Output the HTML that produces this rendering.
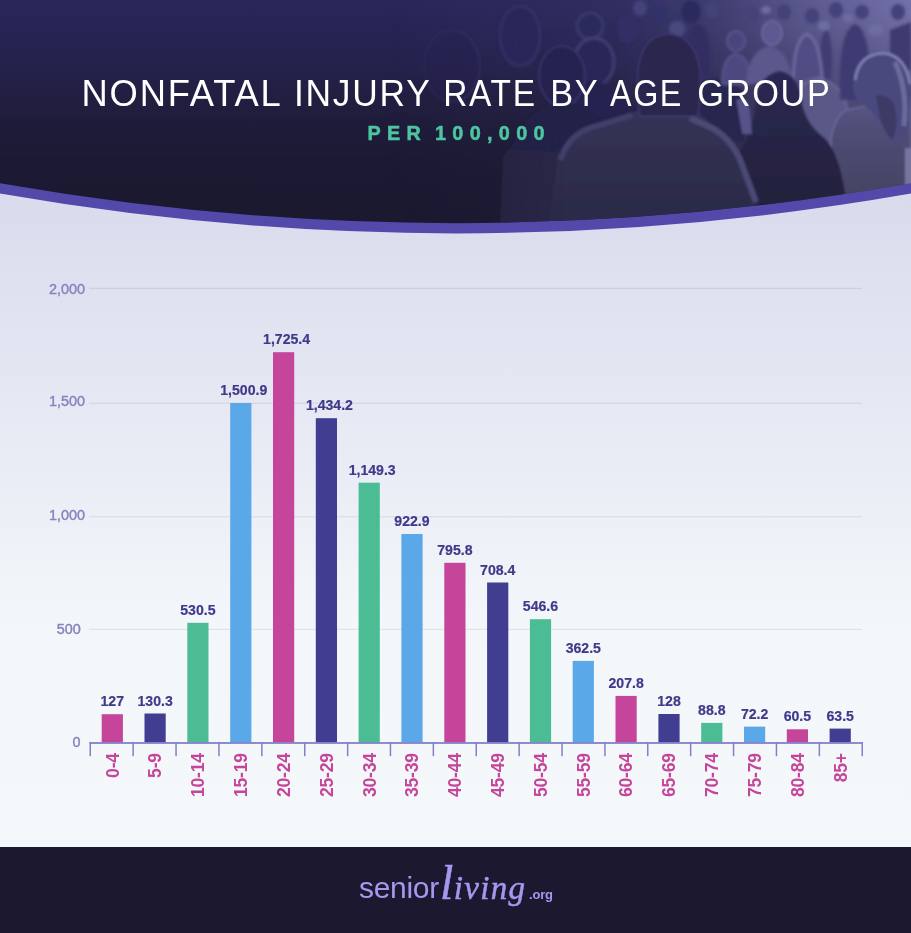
<!DOCTYPE html>
<html lang="en">
<head>
<meta charset="utf-8">
<title>Nonfatal Injury Rate by Age Group</title>
<style>
html,body{margin:0;padding:0;background:#f5f8fa;}
body{width:911px;height:933px;overflow:hidden;position:relative;font-family:"Liberation Sans",sans-serif;}
svg{position:absolute;left:0;top:0;display:block;}
text{font-family:"Liberation Sans",sans-serif;}
.ttl{font-size:36.3px;fill:#fff;letter-spacing:1.8px;}
.sub{font-size:19.8px;font-weight:bold;fill:#4dc5a0;stroke:#4dc5a0;stroke-width:0.5px;letter-spacing:6.35px;word-spacing:-4px;}
.yl{font-size:14.4px;fill:#8684be;stroke:#8684be;stroke-width:0.4px;}
.vl{font-size:14.1px;font-weight:bold;fill:#3e3a8a;stroke:#3e3a8a;stroke-width:0.2px;}
.xl{font-size:17.6px;font-weight:bold;fill:#c4459a;letter-spacing:-0.25px;}
.lg{fill:#a697ef;}
.lg1{font-size:30px;letter-spacing:-0.3px;}
.lg2{font-family:"Liberation Serif",serif;font-style:italic;font-size:38px;stroke:#a697ef;stroke-width:0.5px;}
.lg3{font-size:13px;font-weight:bold;letter-spacing:-0.2px;}
</style>
</head>
<body>
<svg width="911" height="933" viewBox="0 0 911 933">
<defs>
<linearGradient id="bg" x1="0" y1="190" x2="0" y2="848" gradientUnits="userSpaceOnUse"><stop offset="0" stop-color="#d9dbed"/><stop offset="0.68" stop-color="#f4f7fa"/><stop offset="1" stop-color="#f5f8fa"/></linearGradient>
<linearGradient id="hd" x1="0" y1="0" x2="0" y2="200" gradientUnits="userSpaceOnUse"><stop offset="0" stop-color="#29265a"/><stop offset="0.3" stop-color="#25224e"/><stop offset="0.45" stop-color="#221f43"/><stop offset="0.6" stop-color="#1f1c3b"/><stop offset="0.8" stop-color="#1c1a33"/><stop offset="1" stop-color="#1b1930"/></linearGradient>
<clipPath id="hc"><path d="M0 0H911V183.3Q455.5 263 0 183.3Z"/></clipPath>

<linearGradient id="pbg" x1="380" y1="0" x2="911" y2="0" gradientUnits="userSpaceOnUse"><stop offset="0" stop-color="#9a98d0" stop-opacity="0"/><stop offset="0.25" stop-color="#9a98d0" stop-opacity="0.03"/><stop offset="0.45" stop-color="#9a98d0" stop-opacity="0.07"/><stop offset="0.66" stop-color="#9a98d0" stop-opacity="0.24"/><stop offset="0.8" stop-color="#9a98d0" stop-opacity="0.45"/><stop offset="1" stop-color="#9a98d0" stop-opacity="0.66"/></linearGradient>
<linearGradient id="pv" x1="0" y1="0" x2="0" y2="230" gradientUnits="userSpaceOnUse"><stop offset="0" stop-color="#fff"/><stop offset="0.1" stop-color="#f4f4f4"/><stop offset="0.25" stop-color="#ccc"/><stop offset="0.45" stop-color="#aaa"/><stop offset="1" stop-color="#777"/></linearGradient><mask id="pvm" maskUnits="userSpaceOnUse" x="0" y="0" width="911" height="240"><rect x="380" y="0" width="531" height="240" fill="url(#pv)"/></mask>
<linearGradient id="shirt" x1="0" y1="110" x2="0" y2="225" gradientUnits="userSpaceOnUse"><stop offset="0" stop-color="#353459"/><stop offset="0.35" stop-color="#302f51"/><stop offset="1" stop-color="#2b2a47"/></linearGradient>
<linearGradient id="swt" x1="0" y1="100" x2="0" y2="200" gradientUnits="userSpaceOnUse"><stop offset="0" stop-color="#575584"/><stop offset="0.5" stop-color="#4c4a70"/><stop offset="1" stop-color="#444262"/></linearGradient>
<linearGradient id="jack" x1="0" y1="70" x2="0" y2="225" gradientUnits="userSpaceOnUse"><stop offset="0" stop-color="#2c2954"/><stop offset="0.5" stop-color="#272444"/><stop offset="1" stop-color="#211e3a"/></linearGradient>
<linearGradient id="fg" x1="380" y1="0" x2="911" y2="0" gradientUnits="userSpaceOnUse"><stop offset="0" stop-color="#000"/><stop offset="0.1" stop-color="#555"/><stop offset="0.25" stop-color="#ccc"/><stop offset="0.35" stop-color="#fff"/><stop offset="1" stop-color="#fff"/></linearGradient>
<mask id="fade" maskUnits="userSpaceOnUse" x="0" y="0" width="911" height="240"><rect x="380" y="0" width="531" height="240" fill="url(#fg)"/></mask>
<filter id="bl1" filterUnits="userSpaceOnUse" x="350" y="-20" width="600" height="280"><feGaussianBlur stdDeviation="1.2"/></filter>
<filter id="bl2" filterUnits="userSpaceOnUse" x="350" y="-20" width="600" height="280"><feGaussianBlur stdDeviation="1.8"/></filter>
</defs>
<rect x="0" y="0" width="911" height="848" fill="url(#bg)"/>
<path d="M0 0H911V193.6Q455.5 273.2 0 193.6Z" fill="#5249ab"/>
<g clip-path="url(#hc)">
<rect x="0" y="0" width="911" height="225" fill="url(#hd)"/>

<rect x="380" y="0" width="531" height="230" fill="url(#pbg)" mask="url(#pvm)"/>
<g mask="url(#fade)">
<g filter="url(#bl2)">
<!-- far background heads (top strip) -->
<g fill="#44427a">
<ellipse cx="640" cy="8" rx="7" ry="8"/><ellipse cx="712" cy="10" rx="7" ry="8"/><ellipse cx="752" cy="14" rx="7" ry="8"/>
<ellipse cx="784" cy="12" rx="7" ry="8"/><ellipse cx="812" cy="16" rx="7" ry="8"/><ellipse cx="836" cy="10" rx="7" ry="8"/>
<ellipse cx="862" cy="12" rx="7" ry="7"/><ellipse cx="898" cy="12" rx="7" ry="8"/>
</g>
<g fill="#6e6ca4">
<ellipse cx="766" cy="10" rx="5" ry="4"/><ellipse cx="824" cy="26" rx="6" ry="5"/><ellipse cx="876" cy="30" rx="8" ry="6"/><ellipse cx="848" cy="18" rx="5" ry="4"/>
</g>
<!-- background crowd -->
<ellipse cx="826" cy="60" rx="6" ry="30" fill="#3f3d74"/>
<ellipse cx="520" cy="36" rx="20" ry="30" fill="#2b285a" stroke="#3a3770" stroke-width="2"/>
<ellipse cx="590" cy="26" rx="13" ry="13" fill="#2b295b" stroke="#413f76" stroke-width="2"/>
<ellipse cx="594" cy="62" rx="20" ry="24" fill="#2a2858" stroke="#444278" stroke-width="2.5"/>
<path d="M558 120 Q566 84 592 80 Q622 84 638 120Z" fill="#272450"/>
<ellipse cx="628" cy="28" rx="11" ry="15" fill="#322f66"/>
<ellipse cx="660" cy="14" rx="8" ry="9" fill="#33316a"/>
<ellipse cx="677" cy="29" rx="8" ry="8" fill="#4a4880"/>
<ellipse cx="691" cy="12" rx="10" ry="12" fill="#2c2a5e"/>
<path d="M684 60 Q686 22 700 24 Q712 30 710 80 L700 80Z" fill="#302e62"/>
<path d="M699 142 L699 84 Q720 70 744 92 L744 142Z" fill="#282550"/>
<path d="M722 84 Q722 56 736 54 Q750 56 750 84Z" fill="#4b4980" stroke="#5f5d94" stroke-width="1.5"/>
<ellipse cx="736" cy="41" rx="9" ry="10" fill="#46447c" stroke="#615f96" stroke-width="1.5"/>
<path d="M746 84 Q748 50 770 46 Q790 50 792 84Z" fill="#5b598e"/>
<ellipse cx="772" cy="33" rx="10" ry="12" fill="#5b5991" stroke="#7270a6" stroke-width="1.5"/>
<path d="M793 112 Q790 40 807 34 Q824 40 823 112Z" fill="#504e83" stroke="#7270a4" stroke-width="2.5"/>
<path d="M788 112 Q790 84 818 78 Q844 84 848 112 L850 146 L795 146Z" fill="#5a5887" stroke="#7472a2" stroke-width="1.5"/>
<path d="M840 100 Q838 30 855 24 Q872 30 870 100Z" fill="#3d3b72"/>
<path d="M890 30 L911 22 L911 70 L890 70Z" fill="#3d3b70"/>
</g>
<g filter="url(#bl1)">
<!-- person C: sweater + curly hair -->
<path d="M832 205 L831 140 Q834 118 846 110 L911 98 L911 205Z" fill="url(#swt)" stroke="#6c6a98" stroke-width="1.5"/>
<path d="M853 84 Q856 52 884 51 Q911 56 911 96 L909 126 Q902 146 890 140 Q880 118 868 108 Q853 102 853 84Z" fill="#4a487e"/>
<path d="M855 80 Q858 54 884 53 Q906 56 910 84" fill="none" stroke="#7f7db0" stroke-width="3"/>
<path d="M895 62 Q908 90 904 126" fill="none" stroke="#7a78aa" stroke-width="5" opacity="0.75"/>
<path d="M876 96 Q884 92 894 104 Q900 126 892 140 Q884 132 880 118Z" fill="#3c3a66"/>
<rect x="905" y="148" width="8" height="40" fill="#7674a0"/>
<!-- person B: dark jacket + hair -->
<path d="M779 71 Q800 74 802 104 Q806 124 824 138 Q840 152 846 200 L846 230 L738 230 L740 150 Q752 134 756 104 Q758 76 779 71Z" fill="url(#jack)"/>
<!-- left lighter jacket -->
<path d="M500 230 L503 156 Q515 140 545 134 L560 150 L552 230Z" fill="#2b2847"/>
<!-- left heads -->
<ellipse cx="562" cy="76" rx="23" ry="30" fill="#27244f" stroke="#37346a" stroke-width="2"/>
<path d="M510 150 Q530 104 562 102 Q590 104 604 128 L560 152Z" fill="#242148"/>
<ellipse cx="452" cy="66" rx="28" ry="36" fill="#27244f" stroke="#343168" stroke-width="2"/>
<path d="M736 100 Q746 96 750 110 L752 134 L742 134Z" fill="#55538a"/>
<!-- person A: grey t-shirt + dark head -->
<path d="M548 230 L557 164 Q566 134 590 126 L628 114 L640 110 L698 112 L712 124 Q734 136 743 160 L758 204 L758 230Z" fill="url(#shirt)"/>
<path d="M560 160 Q568 136 590 128 L632 115" fill="none" stroke="#454370" stroke-width="6" opacity="0.8"/>
<path d="M690 118 L712 128 Q732 139 741 162 L756 202" fill="none" stroke="#535180" stroke-width="6" opacity="0.8"/>
<path d="M640 116 Q636 90 638 70 Q642 36 668 34 Q696 36 700 72 Q701 92 698 116Z" fill="#2a264e" stroke="#3c3a70" stroke-width="1.5"/>
</g>
</g>

</g>
<text class="ttl" y="106"><tspan x="81.50" textLength="199.73" lengthAdjust="spacingAndGlyphs">NONFATAL</tspan> <tspan x="294.00" textLength="136.96" lengthAdjust="spacingAndGlyphs">INJURY</tspan> <tspan x="443.23" textLength="93.40" lengthAdjust="spacingAndGlyphs">RATE</tspan> <tspan x="550.21" textLength="48.66" lengthAdjust="spacingAndGlyphs">BY</tspan> <tspan x="610.00" textLength="72.98" lengthAdjust="spacingAndGlyphs">AGE</tspan> <tspan x="697.24" textLength="134.48" lengthAdjust="spacingAndGlyphs">GROUP</tspan></text>
<text class="sub" x="367.4" y="140.2">PER 100,000</text>

<rect x="89" y="287.85" width="773" height="1.2" fill="#5a5a82" fill-opacity="0.13"/>
<rect x="89" y="402.60" width="773" height="1.2" fill="#5a5a82" fill-opacity="0.13"/>
<rect x="89" y="516.16" width="773" height="1.2" fill="#5a5a82" fill-opacity="0.13"/>
<rect x="89" y="628.80" width="773" height="1.2" fill="#5a5a82" fill-opacity="0.13"/>
<text class="yl" x="84.9" y="294.0" text-anchor="end">2,000</text>
<text class="yl" x="84.9" y="405.8" text-anchor="end">1,500</text>
<text class="yl" x="84.9" y="519.8" text-anchor="end">1,000</text>
<text class="yl" x="80.8" y="634.1" text-anchor="end">500</text>
<text class="yl" x="80.5" y="747.4" text-anchor="end">0</text>
<rect x="101.7" y="714.2" width="21.2" height="28.4" fill="#c4459a"/>
<text class="vl" x="112.3" y="706.2" text-anchor="middle">127</text>
<text class="xl" transform="translate(118.6 753.2) rotate(-90)" text-anchor="end">0-4</text>
<rect x="144.5" y="713.5" width="21.2" height="29.1" fill="#413d90"/>
<text class="vl" x="155.1" y="705.5" text-anchor="middle">130.3</text>
<text class="xl" transform="translate(161.4 753.2) rotate(-90)" text-anchor="end">5-9</text>
<rect x="187.3" y="622.8" width="21.2" height="119.8" fill="#4bbc94"/>
<text class="vl" x="197.9" y="614.8" text-anchor="middle">530.5</text>
<text class="xl" transform="translate(204.2 753.2) rotate(-90)" text-anchor="end">10-14</text>
<rect x="230.2" y="403.0" width="21.2" height="339.6" fill="#5ba8e8"/>
<text class="vl" x="243.8" y="395.0" text-anchor="middle">1,500.9</text>
<text class="xl" transform="translate(247.1 753.2) rotate(-90)" text-anchor="end">15-19</text>
<rect x="273.0" y="352.2" width="21.2" height="390.4" fill="#c4459a"/>
<text class="vl" x="286.6" y="344.2" text-anchor="middle">1,725.4</text>
<text class="xl" transform="translate(289.9 753.2) rotate(-90)" text-anchor="end">20-24</text>
<rect x="315.8" y="418.2" width="21.2" height="324.4" fill="#413d90"/>
<text class="vl" x="329.4" y="410.2" text-anchor="middle">1,434.2</text>
<text class="xl" transform="translate(332.7 753.2) rotate(-90)" text-anchor="end">25-29</text>
<rect x="358.6" y="482.7" width="21.2" height="259.9" fill="#4bbc94"/>
<text class="vl" x="372.2" y="474.7" text-anchor="middle">1,149.3</text>
<text class="xl" transform="translate(375.5 753.2) rotate(-90)" text-anchor="end">30-34</text>
<rect x="401.4" y="534.0" width="21.2" height="208.6" fill="#5ba8e8"/>
<text class="vl" x="412.0" y="526.0" text-anchor="middle">922.9</text>
<text class="xl" transform="translate(418.3 753.2) rotate(-90)" text-anchor="end">35-39</text>
<rect x="444.3" y="562.8" width="21.2" height="179.8" fill="#c4459a"/>
<text class="vl" x="454.9" y="554.8" text-anchor="middle">795.8</text>
<text class="xl" transform="translate(461.2 753.2) rotate(-90)" text-anchor="end">40-44</text>
<rect x="487.1" y="582.5" width="21.2" height="160.1" fill="#413d90"/>
<text class="vl" x="497.7" y="574.5" text-anchor="middle">708.4</text>
<text class="xl" transform="translate(504.0 753.2) rotate(-90)" text-anchor="end">45-49</text>
<rect x="529.9" y="619.2" width="21.2" height="123.4" fill="#4bbc94"/>
<text class="vl" x="540.5" y="611.2" text-anchor="middle">546.6</text>
<text class="xl" transform="translate(546.8 753.2) rotate(-90)" text-anchor="end">50-54</text>
<rect x="572.7" y="660.9" width="21.2" height="81.7" fill="#5ba8e8"/>
<text class="vl" x="583.3" y="652.9" text-anchor="middle">362.5</text>
<text class="xl" transform="translate(589.6 753.2) rotate(-90)" text-anchor="end">55-59</text>
<rect x="615.5" y="695.9" width="21.2" height="46.7" fill="#c4459a"/>
<text class="vl" x="626.1" y="687.9" text-anchor="middle">207.8</text>
<text class="xl" transform="translate(632.4 753.2) rotate(-90)" text-anchor="end">60-64</text>
<rect x="658.4" y="714.0" width="21.2" height="28.6" fill="#413d90"/>
<text class="vl" x="669.0" y="706.0" text-anchor="middle">128</text>
<text class="xl" transform="translate(675.3 753.2) rotate(-90)" text-anchor="end">65-69</text>
<rect x="701.2" y="722.9" width="21.2" height="19.7" fill="#4bbc94"/>
<text class="vl" x="711.8" y="714.9" text-anchor="middle">88.8</text>
<text class="xl" transform="translate(718.1 753.2) rotate(-90)" text-anchor="end">70-74</text>
<rect x="744.0" y="726.6" width="21.2" height="16.0" fill="#5ba8e8"/>
<text class="vl" x="754.6" y="718.6" text-anchor="middle">72.2</text>
<text class="xl" transform="translate(760.9 753.2) rotate(-90)" text-anchor="end">75-79</text>
<rect x="786.8" y="729.3" width="21.2" height="13.3" fill="#c4459a"/>
<text class="vl" x="797.4" y="721.3" text-anchor="middle">60.5</text>
<text class="xl" transform="translate(803.7 753.2) rotate(-90)" text-anchor="end">80-84</text>
<rect x="829.6" y="728.6" width="21.2" height="14.0" fill="#413d90"/>
<text class="vl" x="840.2" y="720.6" text-anchor="middle">63.5</text>
<text class="xl" transform="translate(846.5 753.2) rotate(-90)" text-anchor="end">85+</text>
<rect x="89.5" y="742.1" width="773.4" height="1.8" fill="#837fcb"/>
<rect x="89.5" y="742" width="1.5" height="14.2" fill="#837fcb"/>
<rect x="132.4" y="742" width="1.5" height="14.2" fill="#837fcb"/>
<rect x="175.3" y="742" width="1.5" height="14.2" fill="#837fcb"/>
<rect x="218.2" y="742" width="1.5" height="14.2" fill="#837fcb"/>
<rect x="261.1" y="742" width="1.5" height="14.2" fill="#837fcb"/>
<rect x="304.0" y="742" width="1.5" height="14.2" fill="#837fcb"/>
<rect x="346.9" y="742" width="1.5" height="14.2" fill="#837fcb"/>
<rect x="389.7" y="742" width="1.5" height="14.2" fill="#837fcb"/>
<rect x="432.6" y="742" width="1.5" height="14.2" fill="#837fcb"/>
<rect x="475.5" y="742" width="1.5" height="14.2" fill="#837fcb"/>
<rect x="518.4" y="742" width="1.5" height="14.2" fill="#837fcb"/>
<rect x="561.3" y="742" width="1.5" height="14.2" fill="#837fcb"/>
<rect x="604.2" y="742" width="1.5" height="14.2" fill="#837fcb"/>
<rect x="647.0" y="742" width="1.5" height="14.2" fill="#837fcb"/>
<rect x="689.9" y="742" width="1.5" height="14.2" fill="#837fcb"/>
<rect x="732.8" y="742" width="1.5" height="14.2" fill="#837fcb"/>
<rect x="775.7" y="742" width="1.5" height="14.2" fill="#837fcb"/>
<rect x="818.6" y="742" width="1.5" height="14.2" fill="#837fcb"/>
<rect x="861.5" y="742" width="1.5" height="14.2" fill="#837fcb"/>
<rect x="0" y="847" width="911" height="86" fill="#1c1830"/>
<g class="lg">
<text class="lg1" x="359" y="898">senior</text>
<text class="lg2" x="440" y="898.5"><tspan style="font-size:48px">l</tspan><tspan dx="0.5" style="font-size:33px;letter-spacing:1.3px">iving</tspan></text>
<text class="lg3" x="529" y="899.2">.org</text>
</g>
</svg>
</body>
</html>
